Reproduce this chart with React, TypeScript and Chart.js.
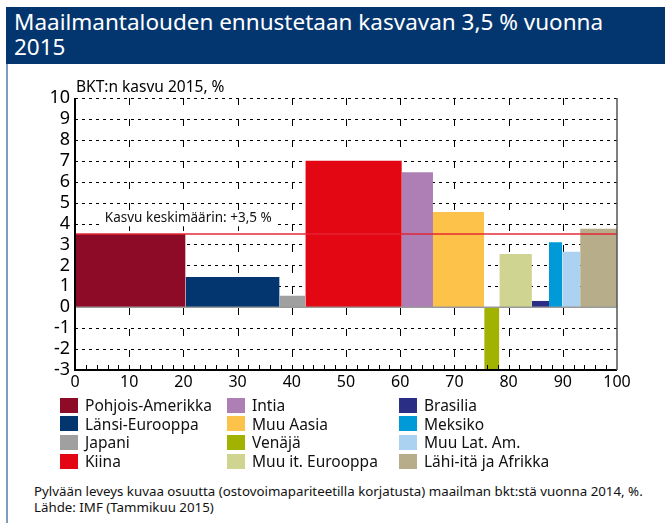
import React, { useEffect, useRef } from 'react';
import { Chart, registerables } from 'chart.js';

Chart.register(...registerables);

const titleText = 'Maailmantalouden ennustetaan kasvavan 3,5 % vuonna 2015';
const yAxisLabel = 'BKT:n kasvu 2015, %';
const regions = [
  'Pohjois-Amerikka', 'Länsi-Eurooppa', 'Japani', 'Kiina',
  'Intia', 'Muu Aasia', 'Venäjä', 'Muu it. Eurooppa',
  'Brasilia', 'Meksiko', 'Muu Lat. Am.', 'Lähi-itä ja Afrikka',
];
// bar width = share of world GDP (PPP) 2014, %
const shares = [20.4, 17.35, 4.75, 17.8, 5.75, 9.45, 2.8, 6.0, 3.15, 2.45, 3.3, 6.8];
// bar height = GDP growth 2015, %
const growth = [3.5, 1.45, 0.55, 7.0, 6.45, 4.55, -3.0, 2.55, 0.3, 3.1, 2.65, 3.75];
const colors = [
  '#8e0b27', '#03366f', '#a0a0a0', '#e30613',
  '#ad7fb5', '#fcc24a', '#a2b200', '#cfd591',
  '#2b2e85', '#009ad8', '#acd2f2', '#b8ad8b',
];
const averageGrowth = 3.5;
const averageLabel = 'Kasvu keskimäärin: +3,5 %';
const footnotes = [
  'Pylvään leveys kuvaa osuutta (ostovoimapariteetilla korjatusta) maailman bkt:stä vuonna 2014, %.',
  'Lähde: IMF (Tammikuu 2015)',
];

const FONT = '"Noto Sans", "Open Sans", sans-serif';

const customDraw = {
  id: 'customDraw',
  beforeDatasetsDraw(chart: any) {
    const { ctx, chartArea, scales } = chart;
    const { left, right, top, bottom } = chartArea;
    const x = scales.x;
    const y = scales.y;
    ctx.save();
    ctx.strokeStyle = '#000';
    ctx.lineWidth = 1;
    ctx.setLineDash([3, 4]);
    for (let v = y.min + 1; v <= y.max; v++) {
      if (v === 0) continue;
      const py = Math.round(y.getPixelForValue(v)) + 0.5;
      ctx.beginPath();
      ctx.moveTo(left, py);
      ctx.lineTo(right, py);
      ctx.stroke();
    }
    ctx.setLineDash([7, 14]);
    for (let v = x.min + 10; v < x.max; v += 10) {
      const px = Math.round(x.getPixelForValue(v)) + 0.5;
      ctx.beginPath();
      ctx.moveTo(px, top);
      ctx.lineTo(px, bottom);
      ctx.stroke();
    }
    ctx.restore();
  },
  afterDatasetsDraw(chart: any) {
    const { ctx, chartArea, scales } = chart;
    const { left, right, top, bottom } = chartArea;
    const x = scales.x;
    const y = scales.y;
    ctx.save();
    // zero line
    ctx.strokeStyle = '#9a9a9a';
    ctx.lineWidth = 1.5;
    const y0 = y.getPixelForValue(0);
    ctx.beginPath();
    ctx.moveTo(left, y0);
    ctx.lineTo(right, y0);
    ctx.stroke();
    // minor ticks on bottom axis
    ctx.strokeStyle = '#000';
    ctx.lineWidth = 1;
    for (let v = x.min + 2; v < x.max; v += 2) {
      const px = Math.round(x.getPixelForValue(v)) + 0.5;
      ctx.beginPath();
      ctx.moveTo(px, bottom);
      ctx.lineTo(px, bottom - 5);
      ctx.stroke();
    }
    // axes
    ctx.lineWidth = 2;
    ctx.strokeStyle = '#000';
    ctx.beginPath();
    ctx.moveTo(left, top);
    ctx.lineTo(left, bottom);
    ctx.lineTo(right, bottom);
    ctx.stroke();
    ctx.strokeStyle = '#555';
    ctx.lineWidth = 1.5;
    ctx.beginPath();
    ctx.moveTo(right, top);
    ctx.lineTo(right, bottom);
    ctx.stroke();
    // average label
    ctx.font = `13.5px ${FONT}`;
    const tx = x.getPixelForValue(5.5);
    const ty = y.getPixelForValue(4.25);
    const w = ctx.measureText(averageLabel).width;
    ctx.fillStyle = '#fff';
    ctx.fillRect(tx - 3, ty - 8, w + 6, 16);
    ctx.fillStyle = '#111';
    ctx.textBaseline = 'middle';
    ctx.textAlign = 'left';
    ctx.fillText(averageLabel, tx, ty);
    ctx.restore();
  },
};

export default function App() {
  const canvasRef = useRef<HTMLCanvasElement | null>(null);

  useEffect(() => {
    if (!canvasRef.current) return;
    const starts: number[] = [];
    let acc = 0;
    shares.forEach((s) => {
      starts.push(acc);
      acc += s;
    });
    const barSets = regions.map((name, i) => ({
      label: name,
      data: [
        { x: starts[i], y: growth[i] },
        { x: starts[i] + shares[i], y: growth[i] },
      ],
      fill: 'origin',
      backgroundColor: colors[i],
      borderColor: 'transparent',
      borderWidth: 0,
      pointRadius: 0,
      tension: 0,
      order: 2,
    }));
    const avgSet = {
      label: 'avg',
      data: [
        { x: 0, y: averageGrowth },
        { x: 100, y: averageGrowth },
      ],
      fill: false,
      borderColor: 'rgba(228, 35, 50, 0.72)',
      borderWidth: 2,
      pointRadius: 0,
      order: 0,
    };
    const chart = new Chart(canvasRef.current, {
      type: 'line',
      data: { datasets: [avgSet, ...barSets] as any },
      options: {
        animation: false,
        responsive: false,
        maintainAspectRatio: false,
        events: [],
        layout: { padding: { left: 0, top: 34, right: 48, bottom: 0 } },
        plugins: {
          legend: { display: false },
          tooltip: { enabled: false },
        },
        scales: {
          x: {
            type: 'linear',
            min: 0,
            max: 100,
            grid: { display: false, drawTicks: false },
            border: { display: false },
            ticks: {
              stepSize: 10,
              autoSkip: false,
              maxRotation: 0,
              padding: 3,
              color: '#000',
              font: { family: FONT, size: 16 },
            },
            afterFit: (scale: any) => {
              scale.height = 30;
            },
          },
          y: {
            type: 'linear',
            min: -3,
            max: 10,
            grid: { display: false, drawTicks: false },
            border: { display: false },
            ticks: {
              stepSize: 1,
              autoSkip: false,
              padding: 5,
              color: '#000',
              font: { family: FONT, size: 18 },
            },
            afterFit: (scale: any) => {
              scale.width = 75;
            },
          },
        },
      },
      plugins: [customDraw],
    });
    return () => chart.destroy();
  }, []);

  const cols = [0, 1, 2].map((c) => regions.slice(c * 4, c * 4 + 4).map((_, j) => c * 4 + j));
  const colLeft = [60, 227, 399];

  return (
    <div style={{ position: 'fixed', left: 0, top: 0, width: 665, height: 523, background: '#fff', overflow: 'hidden', fontFamily: FONT }}>
      <div style={{ position: 'absolute', left: 6, top: 7, width: 659, height: 57, background: '#03366f' }}>
        <div style={{ position: 'absolute', left: 8, top: 2, width: 610, color: '#fff', fontSize: 22.5, lineHeight: '25px' }}>
          {titleText}
        </div>
      </div>
      <div style={{ position: 'absolute', left: 6, top: 64, width: 2, height: 459, background: '#7e9bc1' }} />
      <canvas ref={canvasRef} width={665} height={336} style={{ position: 'absolute', left: 0, top: 64, width: 665, height: 336 }} />
      <div style={{ position: 'absolute', left: 76, top: 77, fontSize: 15.5, lineHeight: '18px', color: '#000', whiteSpace: 'nowrap' }}>{yAxisLabel}</div>
      {cols.map((col, c) => (
        <div key={c} style={{ position: 'absolute', left: colLeft[c], top: 396 }}>
          {col.map((i) => (
            <div key={i} style={{ display: 'flex', alignItems: 'center', height: 18.6, fontSize: 15.5, color: '#111', whiteSpace: 'nowrap' }}>
              <span style={{ display: 'inline-block', width: 18, height: 15, background: colors[i], marginRight: 7, flexShrink: 0 }} />
              {regions[i]}
            </div>
          ))}
        </div>
      ))}
      <div style={{ position: 'absolute', left: 34, top: 483, fontSize: 13.3, lineHeight: '16px', color: '#111', whiteSpace: 'nowrap' }}>
        {footnotes.map((f, i) => (
          <div key={i}>{f}</div>
        ))}
      </div>
    </div>
  );
}
